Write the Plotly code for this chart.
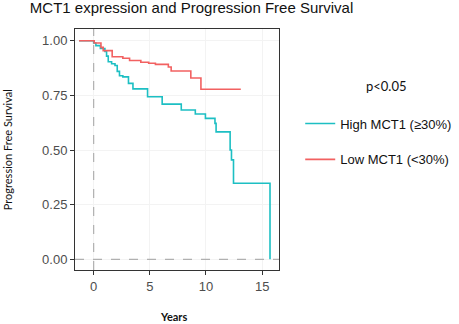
import plotly.graph_objects as go

# Kaplan-Meier step data (years, survival probability)
high_time = [-1.3, 0.0, 0.2, 0.6, 1.0, 1.15, 1.3, 1.6, 1.9, 2.1, 2.3, 2.6, 3.1, 3.5,
             4.8, 6.1, 7.8, 9.05, 9.95, 10.8, 10.9, 12.15, 12.27, 12.45, 15.7]
high_surv = [1.0, 0.99, 0.978, 0.965, 0.951, 0.93, 0.904, 0.895, 0.887, 0.86, 0.84, 0.835,
             0.805, 0.78, 0.744, 0.71, 0.683, 0.665, 0.645, 0.622, 0.583, 0.50, 0.455,
             0.348, 0.0]

low_time = [-1.3, 0.05, 0.65, 0.85, 1.65, 2.6, 3.2, 4.2, 4.9, 5.5, 6.65, 6.9, 8.65, 9.55, 13.1]
low_surv = [1.0, 0.99, 0.97, 0.955, 0.927, 0.92, 0.91, 0.902, 0.897, 0.892, 0.88, 0.862,
            0.83, 0.778, 0.778]

x_ticks = [0, 5, 10, 15]
y_ticks = [0.0, 0.25, 0.50, 0.75, 1.00]
y_tick_labels = ["0.00", "0.25", "0.50", "0.75", "1.00"]

TEAL = "#1DBFC3"
RED = "#F26161"

fig = go.Figure()
fig.add_trace(go.Scatter(x=high_time, y=high_surv, mode="lines", line_shape="hv",
                         line=dict(color=TEAL, width=1.6), name="High MCT1 (≥30%)",
                         legendgroup="h"))
fig.add_trace(go.Scatter(x=low_time, y=low_surv, mode="lines", line_shape="hv",
                         line=dict(color=RED, width=1.6), name="Low MCT1 (<30%)",
                         legendgroup="l"))

fig.add_vline(x=0, line=dict(color="#b0b0b0", width=1.2, dash="dash"), layer="above")
fig.add_hline(y=0, line=dict(color="#b0b0b0", width=1.2, dash="dash"), layer="above")

fig.add_annotation(text="p<0.05", xref="paper", yref="paper", x=1.525, y=0.762,
                   showarrow=False, font=dict(family="Lato", size=13, color="#111"),
                   xanchor="center", yanchor="middle")
fig.add_annotation(text="<b>Years</b>", xref="paper", yref="paper", x=0.485, y=-0.191,
                   showarrow=False, font=dict(family="Lato", size=11, color="#111"),
                   xanchor="center", yanchor="middle")
fig.add_annotation(text="Progression Free Survival", xref="paper", yref="paper",
                   x=-0.33, y=0.5, textangle=-90,
                   showarrow=False, font=dict(family="Lato", size=11, color="#111"),
                   xanchor="center", yanchor="middle")

fig.update_layout(
    width=459, height=324,
    margin=dict(l=75, r=180, t=29, b=54, autoexpand=False),
    paper_bgcolor="white", plot_bgcolor="white",
    title=dict(text="MCT1 expression and Progression Free Survival", x=0.065, xanchor="left",
               y=0.975, yanchor="middle",
               font=dict(family="Liberation Sans", size=15, color="#111")),
    xaxis=dict(range=[-1.66, 16.5], tickvals=x_ticks, ticks="outside", ticklen=4,
               tickcolor="#333", tickfont=dict(family="Liberation Sans", size=13, color="#4d4d4d"),
               showline=True, linecolor="#333", linewidth=1, mirror=True, automargin=False,
               showgrid=True, gridcolor="#f3f3f3", gridwidth=1, zeroline=False),
    yaxis=dict(range=[-0.049, 1.054], tickvals=y_ticks, ticktext=y_tick_labels,
               ticks="outside", ticklen=4, tickcolor="#333", automargin=False,
               tickfont=dict(family="Liberation Sans", size=13, color="#4d4d4d"),
               showline=True, linecolor="#333", linewidth=1, mirror=True,
               showgrid=True, gridcolor="#f3f3f3", gridwidth=1, zeroline=False),
    legend=dict(x=1.104, y=0.533, xanchor="left", yanchor="middle",
                font=dict(family="Liberation Sans", size=13, color="#111"),
                tracegroupgap=16, bgcolor="rgba(0,0,0,0)"),
    showlegend=True,
)

fig.write_html("out.html", config={"displayModeBar": False},
               post_script="document.body.style.margin='0px';")
